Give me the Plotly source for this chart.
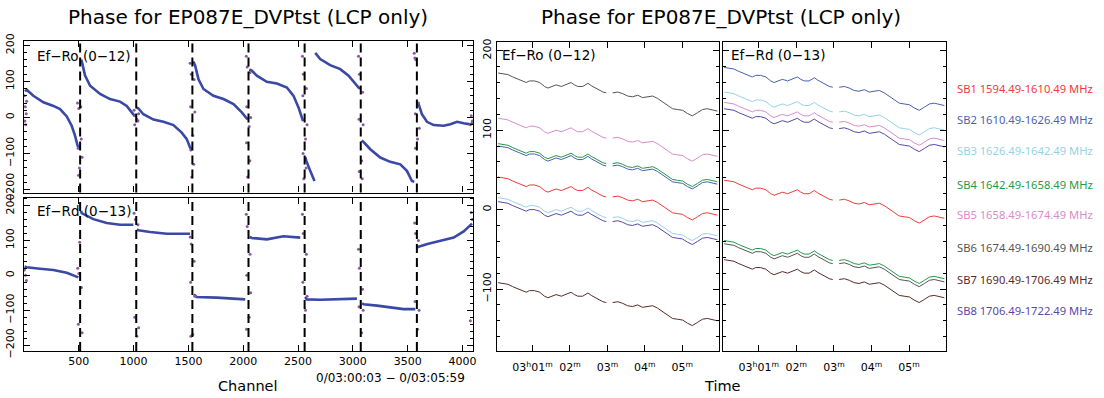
import plotly.graph_objects as go

W, H = 1104, 398

# ---------------- data: left panels (phase vs channel) ----------------
band_edges = [512, 1024, 1536, 2048, 2560, 3072, 3584]

ro_ch = [10, 24, 85, 177, 268, 329, 390, 435, 466, 490, 505, None,
         520, 526, 557, 603, 694, 785, 876, 937, 983, 1013, None,
         1030, 1044, 1089, 1181, 1272, 1363, 1439, 1485, 1515, 1528, None,
         1545, 1561, 1592, 1637, 1728, 1820, 1911, 1987, 2033, 2042, None,
         2055, 2078, 2124, 2215, 2307, 2398, 2459, 2504, 2535, 2545, None,
         2566, 2574, 2611, 2650, None,
         2657, 2702, 2793, 2885, 2961, 3022, 3052, 3066, None,
         3080, 3098, 3159, 3250, 3341, 3433, 3493, 3539, 3560, None,
         3590, 3600, 3630, 3676, 3737, 3828, 3889, 3950, 4011, 4072, 4094]
ro_ph = [72, 77, 60, 42, 32, 23, 3, -23, -51, -79, -85, None,
         160, 157, 116, 88, 65, 51, 44, 32, 14, 3, None,
         27, 25, 9, -6, -12, -21, -42, -60, -83, -90, None,
         155, 144, 106, 79, 60, 51, 37, 14, -3, -5, None,
         133, 130, 116, 99, 94, 83, 60, 28, 0, -10, None,
         -110, -119, -148, -176, None,
         179, 162, 145, 134, 116, 93, 83, 80, None,
         -64, -68, -88, -111, -123, -130, -148, -176, -178, None,
         40, 37, 9, -12, -21, -23, -19, -12, -16, -19, -15]

rd_ch = [5, 24, 146, 268, 390, 496, None,
         520, 526, 633, 755, 876, 998, None,
         1030, 1044, 1150, 1302, 1515, None,
         1550, 1576, 1759, 1911, 2018, None,
         2060, 2078, 2215, 2367, 2520, None,
         2565, 2580, 2702, 2824, 3037, None,
         3085, 3098, 3220, 3341, 3463, 3570, None,
         3590, 3600, 3680, 3828, 3920, 4011, 4087]
rd_ph = [25, 23, 19, 15, 7, -6, None,
         185, 178, 161, 150, 145, 145, None,
         132, 129, 124, 119, 119, None,
         -55, -62, -64, -67, -69, None,
         110, 107, 103, 112, 108, None,
         -62, -69, -70, -69, -67, None,
         -80, -83, -87, -92, -97, -97, None,
         80, 82, 90, 100, 108, 126, 148]

ro_noise_ch = [4, 12, 20, 8, 16, 24,
               488, 500, 522, 494, 530, 506, 498, 518,
               1004, 1016, 1040, 1010, 1046, 1030,
               1516, 1526, 1552, 1520, 1558, 1540, 1522, 1548, 1530,
               2028, 2036, 2062, 2032, 2068, 2054, 2030, 2060, 2040,
               2540, 2548, 2576, 2544, 2582, 2568, 2546, 2574, 2552,
               3052, 3060, 3088, 3056, 3094, 3080, 3058, 3086,
               3560, 3566, 3574, 3600, 3570, 3606, 3590, 3572,
               4080, 4090, 4070]
ro_noise_ph = [60, 30, 10, -10, -20, 45,
               40, 25, -60, -85, -110, -140, -160, 30,
               20, 5, -10, -20, 10, -5,
               150, 120, 105, 30, 15, -50, -90, -130, -165,
               170, 140, 125, 30, 0, -25, -70, -120, -165,
               170, 120, 80, 60, -20, -60, -100, -140, -170,
               170, 120, 70, -5, -20, -120, -150, -170,
               178, 165, 160, 40, 10, -30, -60, -85,
               5, -10, -20]

rd_noise_ch = [4, 14, 22,
               490, 500, 524, 496, 530, 508,
               1004, 1016, 1040, 1010, 1046, 1030,
               1516, 1526, 1552, 1520, 1558, 1540, 1522,
               2028, 2036, 2062, 2032, 2068, 2054, 2030,
               2540, 2548, 2576, 2544, 2582, 2568,
               3052, 3060, 3088, 3056, 3094, 3080,
               3564, 3572, 3598, 3568, 3604, 3590,
               4080, 4090, 4072]
rd_noise_ph = [15, 0, -15,
               20, 5, -35, -140, -165, 95,
               178, 160, 145, -120, -150, -175,
               110, 90, 40, -20, -60, -170, -175,
               175, 140, 60, 0, -50, -120, -155,
               175, 120, 60, -20, -60, -100,
               75, 20, -40, -90, -100, -165,
               150, 120, 100, -75, -100, -155,
               180, 160, -130]

# ---------------- data: right panels (phase vs time) ----------------
# time in minutes after 03:00 UT, two scans separated by a gap
time_a = [0.08, 0.21, 0.34, 0.47, 0.61, 0.74, 0.83, 0.92, 1.05, 1.19, 1.32, 1.41, 1.50,
          1.63, 1.77, 1.90, 2.03, 2.12, 2.21, 2.34, 2.48, 2.57, 2.65, 2.74, 2.88, 2.97]
time_b = [3.14, 3.28, 3.41, 3.54, 3.67, 3.81, 3.94, 4.07, 4.21, 4.34, 4.47, 4.61, 4.74,
          4.87, 5.01, 5.14, 5.27, 5.41, 5.54, 5.67, 5.81, 5.94]
# common phase drift (deg), relative to the first sample
drift_a = [0, -1, -2, -5, -8, -10, -12, -10, -10, -12, -17, -19, -17,
           -15, -17, -14, -12, -15, -17, -17, -13, -16, -18, -20, -24, -25]
drift_b = [-25, -24, -26, -29, -30, -28, -31, -30, -29, -32, -36, -40, -45,
           -46, -47, -51, -54, -50, -46, -45, -47, -48]

sb_names = ["SB1 1594.49-1610.49 MHz", "SB2 1610.49-1626.49 MHz", "SB3 1626.49-1642.49 MHz",
            "SB4 1642.49-1658.49 MHz", "SB5 1658.49-1674.49 MHz", "SB6 1674.49-1690.49 MHz",
            "SB7 1690.49-1706.49 MHz", "SB8 1706.49-1722.49 MHz"]
sb_colors = ["#f03a3a", "#4a5fb0", "#96d2e6", "#1f9a4a", "#d98ccc", "#555555", "#5a2a2a", "#5a48a8"]
ro_start = [41, 80, 15, 83, 115, 172, -92, 10]     # Ef-Ro (0-12) phase at scan start
rd_start = [37, 179, 148, -39, 135, -43, -63, 127]  # Ef-Rd (0-13) phase at scan start

# ---------------- figure ----------------
fig = go.Figure()

line_blue = "#3a48a6"
dot_purple = "#8a5a9c"

for ch, ph, nch, nph, ax in [(ro_ch, ro_ph, ro_noise_ch, ro_noise_ph, ("x", "y")),
                             (rd_ch, rd_ph, rd_noise_ch, rd_noise_ph, ("x2", "y2"))]:
    fig.add_trace(go.Scatter(x=ch, y=ph, mode="lines", xaxis=ax[0], yaxis=ax[1],
                             line=dict(color=line_blue, width=2.6), showlegend=False,
                             connectgaps=False))
    fig.add_trace(go.Scatter(x=nch, y=nph, mode="markers", xaxis=ax[0], yaxis=ax[1],
                             marker=dict(size=3, color=dot_purple), showlegend=False,
                             hoverinfo="skip"))

tx = time_a + [None] + time_b
drift = drift_a + [None] + drift_b
for starts, ax in [(ro_start, ("x3", "y3")), (rd_start, ("x4", "y4"))]:
    for name, col, s in zip(sb_names, sb_colors, starts):
        ys = [None if d is None else s + d for d in drift]
        fig.add_trace(go.Scatter(x=tx, y=ys, mode="lines", xaxis=ax[0], yaxis=ax[1],
                                 line=dict(color=col, width=1.0), name=name,
                                 showlegend=False, connectgaps=False))

tickfont = dict(family="DejaVu Sans", size=11, color="black")
common = dict(showline=True, linecolor="black", linewidth=1.4, mirror="ticks",
              ticks="inside", ticklen=6, tickwidth=1, tickcolor="black",
              showgrid=False, zeroline=False, tickfont=tickfont, automargin=False)

xl = [24 / W, 473 / W]
xm = [497 / W, 719 / W]
xr = [723 / W, 946 / W]

time_vals = [1, 2, 3, 4, 5]
time_text = ["03<sup>h</sup>01<sup>m</sup>", "02<sup>m</sup>", "03<sup>m</sup>",
             "04<sup>m</sup>", "05<sup>m</sup>"]

yminor = dict(ticks="inside", ticklen=3, dtick=20, tick0=0, tickcolor="black", showgrid=False)

fig.update_layout(
    template="none",
    width=W, height=H, margin=dict(l=0, r=0, t=0, b=0, autoexpand=False),
    paper_bgcolor="white", plot_bgcolor="white", showlegend=False,
    xaxis=dict(domain=xl, range=[0, 4096], anchor="y", tick0=0, dtick=500,
               showticklabels=False, **common),
    yaxis=dict(domain=[1 - 192.5 / H, 1 - 41 / H], range=[-208, 212], anchor="x",
               tickvals=[-200, -100, 0, 100, 200], tickangle=-90, minor=yminor,
               ticklabelstandoff=4, **common),
    xaxis2=dict(domain=xl, range=[0, 4096], anchor="y2", tick0=0, dtick=500,
                tickvals=[500, 1000, 1500, 2000, 2500, 3000, 3500, 4000], **common),
    yaxis2=dict(domain=[1 - 351 / H, 1 - 197.5 / H], range=[-217, 223], anchor="x2",
                tickvals=[-200, -100, 0, 100, 200], tickangle=-90, minor=yminor,
                ticklabelstandoff=4, **common),
    xaxis3=dict(domain=xm, range=[0.05, 5.983], anchor="y3", ticklabelstandoff=6,
                tickvals=time_vals, ticktext=time_text, **common),
    yaxis3=dict(domain=[1 - 351 / H, 1 - 42 / H], range=[-178, 211], anchor="x3",
                tickvals=[-100, 0, 100, 200], tickangle=-90, minor=yminor, **common),
    xaxis4=dict(domain=xr, range=[0.05, 5.983], anchor="y4", ticklabelstandoff=6,
                tickvals=time_vals, ticktext=time_text, **common),
    yaxis4=dict(domain=[1 - 351 / H, 1 - 42 / H], range=[-178, 211], anchor="x4",
                tickvals=[-100, 0, 100, 200], showticklabels=False, minor=yminor, **common),
)

# band boundaries (dashed)
for xa, ya in [("x", "y"), ("x2", "y2")]:
    for e in band_edges:
        fig.add_shape(type="line", xref=xa, yref=ya + " domain", x0=e, x1=e, y0=0, y1=1,
                      line=dict(color="black", width=2, dash="9px,5px"), layer="above")

def ann(text, x, y, size, xanchor="center", color="black", family="DejaVu Sans"):
    fig.add_annotation(text=text, x=x / W, y=1 - y / H, xref="paper", yref="paper",
                       showarrow=False, xanchor=xanchor, yanchor="middle",
                       font=dict(family=family, size=size, color=color))

title = "Phase for EP087E_DVPtst (LCP only)"
ann(title, 248, 17, 20)
ann(title, 721, 17, 20)
ann("Ef\u2212Ro (0\u221212)", 35, 56, 13.5, xanchor="left")
ann("Ef\u2212Rd (0\u221213)", 35, 211, 13.5, xanchor="left")
ann("Ef\u2212Ro (0\u221212)", 500, 55, 13.5, xanchor="left")
ann("Ef\u2212Rd (0\u221213)", 729, 55, 13.5, xanchor="left")
ann("Channel", 248, 386, 14.5)
ann("0/03:00:03 \u2212 0/03:05:59", 390, 378, 12)
ann("Time", 722, 386, 14.5)

legend_y = [88, 120, 151, 184, 215, 247, 279, 310]
for name, col, yy in zip(sb_names, sb_colors, legend_y):
    ann(name, 955, yy, 11.2, xanchor="left", color=col, family="Noto Sans")

fig.write_html("out.html", config={"displayModeBar": False},
               post_script="document.body.style.margin='0';document.body.style.padding='0';")
